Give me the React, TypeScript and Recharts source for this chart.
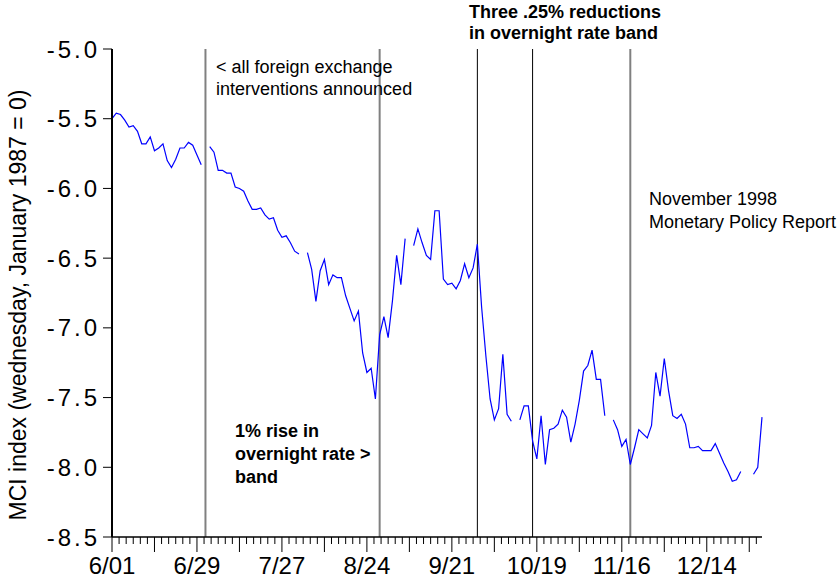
import { Label, Line, LineChart, ReferenceLine, XAxis, YAxis } from 'recharts';

const FONT = '"Liberation Sans", Arial, sans-serif';

// x axis = business day index, 0 = Mon 6/01/1998
const MAJOR_LABELS = ['6/01', '6/29', '7/27', '8/24', '9/21', '10/19', '11/16', '12/14'];
const Y_TICKS = [-8.5, -8.0, -7.5, -7.0, -6.5, -6.0, -5.5, -5.0];

// MCI level, null = holiday (no observation)
const MCI: (number | null)[] = [
  -5.5, -5.46, -5.47, -5.51, -5.56, -5.55, -5.59, -5.68, -5.68, -5.63,
  -5.73, -5.71, -5.68, -5.8, -5.85, -5.79, -5.71, -5.71, -5.67, -5.69,
  -5.76, -5.83, null, -5.7, -5.74, -5.87, -5.87, -5.89, -5.89, -5.99,
  -6.0, -6.02, -6.09, -6.15, -6.15, -6.14, -6.19, -6.22, -6.21, -6.3,
  -6.35, -6.34, -6.39, -6.45, -6.47, null, -6.46, -6.58, -6.81, -6.59,
  -6.51, -6.69, -6.62, -6.64, -6.64, -6.77, -6.86, -6.95, -6.88, -7.18,
  -7.32, -7.29, -7.51, -7.05, -6.92, -7.07, -6.81, -6.48, -6.69, -6.36,
  null, -6.41, -6.29, -6.39, -6.48, -6.51, -6.16, -6.16, -6.65, -6.69,
  -6.68, -6.72, -6.66, -6.54, -6.64, -6.57, -6.4, -6.85, -7.2, -7.51,
  -7.66, -7.58, -7.19, -7.62, -7.67, null, -7.66, -7.56, -7.56, -7.81,
  -7.94, -7.63, -7.98, -7.73, -7.72, -7.69, -7.59, -7.64, -7.82, -7.69,
  -7.52, -7.31, -7.27, -7.16, -7.37, -7.37, -7.63, null, -7.66, -7.73,
  -7.85, -7.8, -7.98, -7.86, -7.73, -7.76, -7.79, -7.7, -7.32, -7.49,
  -7.22, -7.45, -7.63, -7.65, -7.62, -7.69, -7.86, -7.86, -7.85, -7.88,
  -7.88, -7.88, -7.83, -7.9, -7.97, -8.03, -8.1, -8.09, -8.03, null,
  null, -8.05, -8.0, -7.64,
];

const RATE_CUT_DAYS = [86, 99];
const OTHER_EVENT_DAYS = [22, 63, 122];

const data = MCI.map((v, i) => ({ day: i, mci: v }));

const STEP = 5 / 3;
const xTicks = Array.from({ length: 92 }, (_, k) => k * STEP);

function DayTick(props: any) {
  const { x, y, payload } = props;
  const k = Math.round(payload.value / STEP);
  const long = k % 6 === 0;
  const label = k % 12 === 0 ? MAJOR_LABELS[k / 12] : null;
  return (
    <g>
      <line x1={x} x2={x} y1={y} y2={y + (long ? 15 : 7)} stroke="#000" strokeWidth={1} />
      {label && (
        <text x={x} y={y + 37} textAnchor="middle" fontSize={24} fill="#000" fontFamily={FONT}>
          {label}
        </text>
      )}
    </g>
  );
}

const note: React.CSSProperties = {
  position: 'absolute',
  fontFamily: FONT,
  fontSize: 18,
  color: '#000',
  whiteSpace: 'nowrap',
};

export default function App() {
  return (
    <div style={{ position: 'relative', width: 839, height: 578, background: '#fff' }}>
      <style>{'body{margin:0}'}</style>
      <LineChart
        width={839}
        height={578}
        data={data}
        margin={{ top: 49, right: 77, bottom: 0, left: 0 }}
        style={{ fontFamily: FONT }}
      >
        <XAxis
          dataKey="day"
          type="number"
          domain={[0, 153]}
          ticks={xTicks}
          interval={0}
          tick={<DayTick />}
          tickLine={false}
          tickSize={0}
          tickMargin={0}
          height={41}
          axisLine={{ stroke: '#000', strokeWidth: 1.5 }}
        />
        <YAxis
          type="number"
          domain={[-8.5, -5.0]}
          ticks={Y_TICKS}
          interval={0}
          width={112}
          tickSize={9}
          tickMargin={3}
          tickFormatter={(v: number) => v.toFixed(1)}
          tick={{ fontSize: 24, fill: '#000', letterSpacing: 3 }}
          tickLine={{ stroke: '#000' }}
          axisLine={{ stroke: '#000', strokeWidth: 2 }}
        >
          <Label
            content={() => (
              <text
                x={20}
                y={305}
                transform="rotate(-90 20 305)"
                textAnchor="middle"
                dominantBaseline="middle"
                fontSize={23}
                fill="#000"
                fontFamily={FONT}
              >
                MCI index (wednesday, January 1987 = 0)
              </text>
            )}
          />
        </YAxis>
        {OTHER_EVENT_DAYS.map((d) => (
          <ReferenceLine key={d} x={d} stroke="#808080" strokeWidth={2} />
        ))}
        {RATE_CUT_DAYS.map((d) => (
          <ReferenceLine key={d} x={d} stroke="#000" strokeWidth={1} />
        ))}
        <Line
          type="linear"
          dataKey="mci"
          stroke="#0000ff"
          strokeWidth={1.2}
          dot={false}
          connectNulls={false}
          isAnimationActive={false}
        />
      </LineChart>

      <div style={{ ...note, left: 216, top: 56, lineHeight: '22px' }}>
        &lt; all foreign exchange
        <br />
        interventions announced
      </div>
      <div style={{ ...note, left: 469, top: 2, lineHeight: '21px', fontWeight: 'bold' }}>
        Three .25% reductions
        <br />
        in overnight rate band
      </div>
      <div style={{ ...note, left: 649, top: 188, lineHeight: '23px' }}>
        November 1998
        <br />
        Monetary Policy Report
      </div>
      <div style={{ ...note, left: 235, top: 420, lineHeight: '23px', fontWeight: 'bold' }}>
        1% rise in
        <br />
        overnight rate &gt;
        <br />
        band
      </div>
    </div>
  );
}
